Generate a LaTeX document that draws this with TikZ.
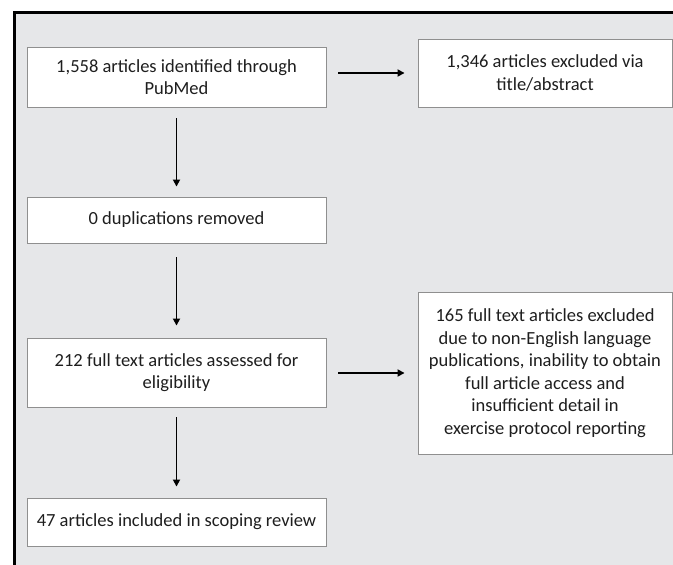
\documentclass[tikz,border=0pt]{standalone}
\usepackage{fontspec}
\setmainfont{Carlito}
\usetikzlibrary{arrows.meta}
\definecolor{bggray}{HTML}{E6E7E9}
\definecolor{boxline}{HTML}{8F8F8F}
\definecolor{txt}{HTML}{1E1E1E}
\begin{document}
\begin{tikzpicture}[x=1pt,y=-1pt,
  flowbox/.style={draw=boxline,line width=0.9pt,fill=white,rectangle,align=center,
    inner sep=0pt,text=txt,font=\fontsize{18.5}{22.5}\selectfont},
  flowarrow/.style={line width=1.7pt,-{Triangle[length=7pt,width=7pt]}}]
\useasboundingbox (0,0) rectangle (673,565);
\fill[bggray] (14,12) rectangle (673,565);
\draw[line width=3pt,line cap=rect] (673,12) -- (14,12) -- (14,565);
\node[flowbox,minimum width=299pt,minimum height=60pt] (b1) at (176.5,77) {1,558 articles identified through\\PubMed};
\node[flowbox,minimum width=254pt,minimum height=68pt] (b2) at (545,73) {1,346 articles excluded via\\title/abstract};
\node[flowbox,minimum width=299pt,minimum height=46pt] (b3) at (176.5,220) {0 duplications removed};
\node[flowbox,minimum width=299pt,minimum height=69pt] (b4) at (176.5,372.5) {212 full text articles assessed for\\eligibility};
\node[flowbox,minimum width=254pt,minimum height=162pt] (b5) at (545,373) {165 full text articles excluded\\due to non-English language\\publications, inability to obtain\\full article access and\\insufficient detail in\\exercise protocol reporting};
\node[flowbox,minimum width=299pt,minimum height=48pt] (b6) at (176.5,522) {47 articles included in scoping review};
\draw[flowarrow,shorten <=11pt,shorten >=10pt] (b1.south) -- (b3.north);
\draw[flowarrow,shorten <=14pt,shorten >=12pt] (b3.south) -- (b4.north);
\draw[flowarrow,shorten <=10pt,shorten >=11pt] (b4.south) -- (b6.north);
\draw[flowarrow,shorten <=12pt,shorten >=13pt] (b1.east |- b2.west) -- (b2.west);
\draw[flowarrow,shorten <=12pt,shorten >=13pt] (b4.east |- b5.west) -- (b5.west);
\end{tikzpicture}
\end{document}
